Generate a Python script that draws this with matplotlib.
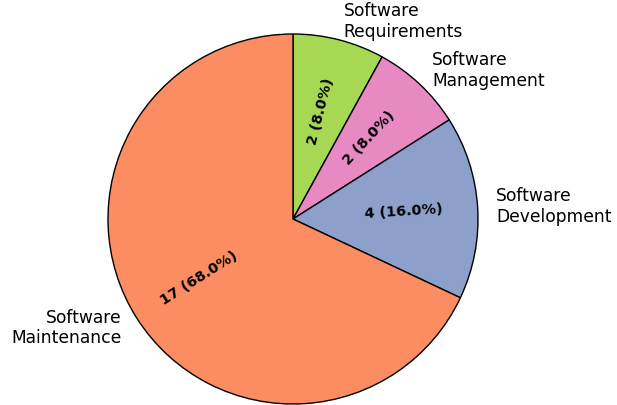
import matplotlib
matplotlib.use("Agg")
import matplotlib.pyplot as plt
import numpy as np

categories = ["Software\nRequirements", "Software\nManagement", "Software\nDevelopment", "Software\nMaintenance"]
counts = [2, 2, 4, 17]
colors = ["#a6d854", "#e78ac3", "#8da0cb", "#fc8d62"]

total = sum(counts)

fig = plt.figure(figsize=(6.17, 4.05), dpi=100)
r_px = 185
cx, cy = 293, 405 - 219
ax = fig.add_axes([(cx - r_px) / 617, (cy - r_px) / 405, 2 * r_px / 617, 2 * r_px / 405])

wedges, texts, autotexts = ax.pie(
    counts, labels=categories, colors=colors, startangle=90, counterclock=False,
    autopct=lambda p: f"{int(round(p * total / 100))} ({p:.1f}%)",
    wedgeprops=dict(edgecolor="black", linewidth=1),
    textprops=dict(fontsize=12.3),
)
for w, t in zip(wedges, autotexts):
    ang = (w.theta1 + w.theta2) / 2 % 360
    if 90 < ang < 270:
        ang -= 180
    t.set_rotation(ang)
    t.set_fontweight("bold")
    t.set_fontsize(10.4)
ax.set_xlim(-1, 1)
ax.set_ylim(-1, 1)
ax.set_aspect("equal")
fig.savefig("out.png", dpi=100)
